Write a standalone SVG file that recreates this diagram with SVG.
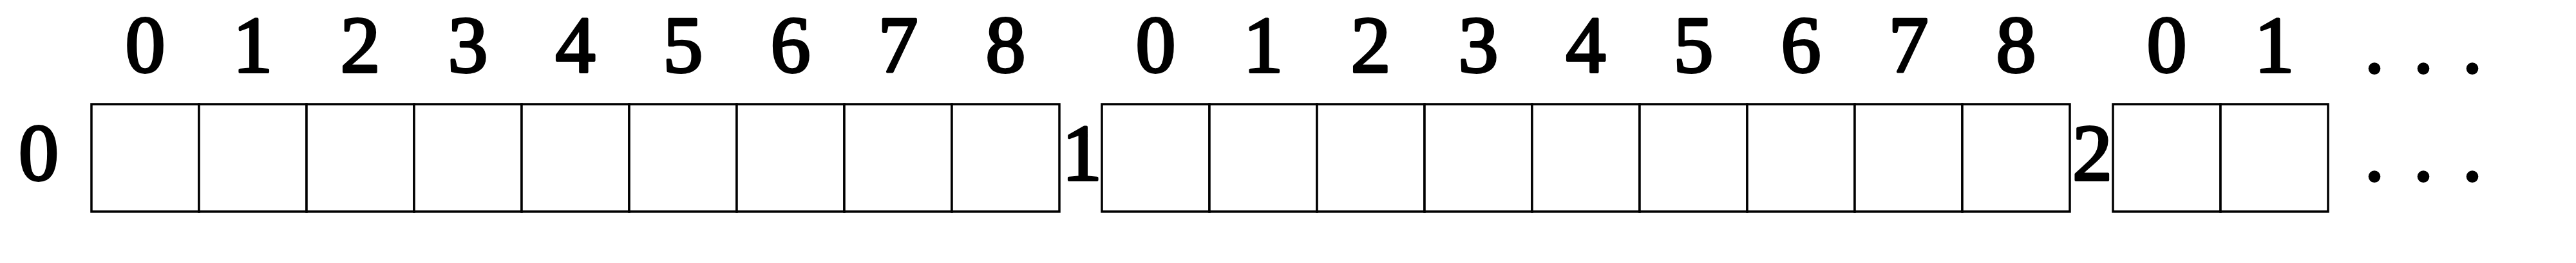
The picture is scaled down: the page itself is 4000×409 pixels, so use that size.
<svg xmlns="http://www.w3.org/2000/svg" width="4000" height="409" viewBox="0 0 4000 409">
<style>
.cell{fill:#fff;stroke:#000;stroke-width:3.5}
.lbl{font-family:"Liberation Serif","Times New Roman",serif;font-size:124px;fill:#000;stroke:#000;stroke-width:4;stroke-linejoin:round;text-anchor:middle}
</style>
<rect width="4000" height="409" fill="#fff"/>
<g id="row0">
<rect class="cell" x="142" y="162" width="167" height="167"/>
<rect class="cell" x="309" y="162" width="167" height="167"/>
<rect class="cell" x="476" y="162" width="167" height="167"/>
<rect class="cell" x="643" y="162" width="167" height="167"/>
<rect class="cell" x="810" y="162" width="167" height="167"/>
<rect class="cell" x="977" y="162" width="167" height="167"/>
<rect class="cell" x="1144" y="162" width="167" height="167"/>
<rect class="cell" x="1311" y="162" width="167" height="167"/>
<rect class="cell" x="1478" y="162" width="167" height="167"/>
<text class="lbl" x="60" y="280">0</text>
<text class="lbl" x="225.5 392.5 559.5 726.5 893.5 1060.5 1227.5 1394.5 1561.5" y="112">012345678</text>
</g>
<g id="row1">
<rect class="cell" x="1711" y="162" width="167" height="167"/>
<rect class="cell" x="1878" y="162" width="167" height="167"/>
<rect class="cell" x="2045" y="162" width="167" height="167"/>
<rect class="cell" x="2212" y="162" width="167" height="167"/>
<rect class="cell" x="2379" y="162" width="167" height="167"/>
<rect class="cell" x="2546" y="162" width="167" height="167"/>
<rect class="cell" x="2713" y="162" width="167" height="167"/>
<rect class="cell" x="2880" y="162" width="167" height="167"/>
<rect class="cell" x="3047" y="162" width="167" height="167"/>
<text class="lbl" x="1680" y="280">1</text>
<text class="lbl" x="1794.5 1961.5 2128.5 2295.5 2462.5 2629.5 2796.5 2963.5 3130.5" y="112">012345678</text>
</g>
<g id="row2">
<rect class="cell" x="3281" y="162" width="167" height="167"/>
<rect class="cell" x="3448" y="162" width="167" height="167"/>
<text class="lbl" x="3249" y="280">2</text>
<text class="lbl" x="3364.5 3531.5" y="112">01</text>
<text class="lbl" x="3687 3763 3839" y="112">...</text>
<text class="lbl" x="3687 3763 3839" y="280">...</text>
</g>
</svg>
